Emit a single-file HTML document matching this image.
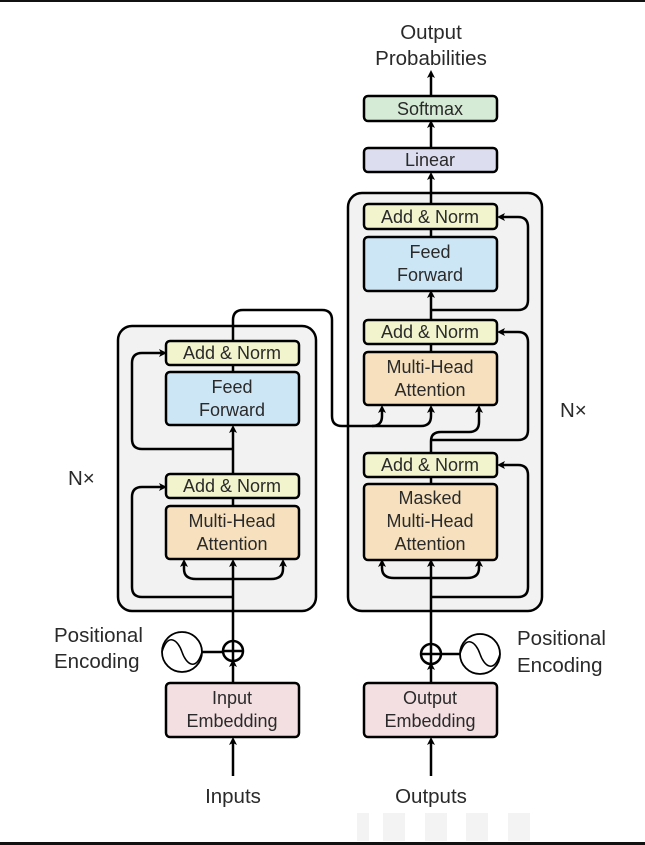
<!DOCTYPE html>
<html><head><meta charset="utf-8"><style>
html,body{margin:0;padding:0;background:#fff;}
svg{display:block;}
text{font-family:"Liberation Sans",sans-serif;fill:#2a2a2a;}
</style></head><body>
<svg width="645" height="845" viewBox="0 0 645 845" xmlns="http://www.w3.org/2000/svg">
<defs>
<marker id="a" markerWidth="8" markerHeight="8" refX="5" refY="4" orient="auto" markerUnits="userSpaceOnUse" viewBox="0 0 8 8">
<path d="M0,0 L8,4 L0,8 L2,4 z" fill="#000"/></marker>
</defs>
<rect x="0" y="0" width="645" height="2" fill="#111"/>
<rect x="0" y="842" width="645" height="3" fill="#111"/>
<g fill="#f3f3f3">
<rect x="357" y="813" width="12" height="28"/><rect x="383" y="813" width="22" height="28"/>
<rect x="425" y="813" width="22" height="28"/><rect x="466" y="813" width="22" height="28"/>
<rect x="508" y="813" width="22" height="28"/>
</g>
<rect x="118" y="326" width="198" height="285" rx="14" fill="#f2f2f2" stroke="#000" stroke-width="2.5"/>
<rect x="348" y="193" width="194" height="418" rx="14" fill="#f2f2f2" stroke="#000" stroke-width="2.5"/>

<g fill="none" stroke="#000" stroke-width="2.5">
<path d="M233 776 V740" marker-end="url(#a)"/>
<path d="M233 683 V662" marker-end="url(#a)"/>
<path d="M233 641 V562" marker-end="url(#a)"/>
<path d="M233 579 H196 Q184 579 184 569 V562" marker-end="url(#a)"/>
<path d="M233 579 H271 Q283 579 283 569 V562" marker-end="url(#a)"/>
<path d="M233 597 H142 Q132 597 132 587 V497 Q132 487 142 487 H164" marker-end="url(#a)"/>
<path d="M233 506 V499"/>
<path d="M233 474 V428" marker-end="url(#a)"/>
<path d="M233 449 H142 Q132 449 132 439 V363 Q132 353 142 353 H164" marker-end="url(#a)"/>
<path d="M233 372 V366"/>
<path d="M233 341 V320 Q233 310 243 310 H322 Q332 310 332 320 V416 Q332 426 342 426 H372 Q382 426 382 416 V408" marker-end="url(#a)"/>
<path d="M372 426 H421 Q431 426 431 416 V408" marker-end="url(#a)"/>
<path d="M201 652 H223"/>
<path d="M431 776 V740" marker-end="url(#a)"/>
<path d="M431 683 V665" marker-end="url(#a)"/>
<path d="M431 644 V562" marker-end="url(#a)"/>
<path d="M431 578 H394 Q382 578 382 568 V562" marker-end="url(#a)"/>
<path d="M431 578 H467 Q479 578 479 568 V562" marker-end="url(#a)"/>
<path d="M431 597 H518 Q528 597 528 587 V475 Q528 465 518 465 H500" marker-end="url(#a)"/>
<path d="M431 484 V477"/>
<path d="M431 453 V441 Q431 432 441 432 H469 Q479 432 479 422 V408" marker-end="url(#a)"/>
<path d="M431 440 H518 Q528 440 528 430 V342 Q528 332 518 332 H500" marker-end="url(#a)"/>
<path d="M431 352 V344"/>
<path d="M431 320 V293" marker-end="url(#a)"/>
<path d="M431 310 H518 Q528 310 528 300 V227 Q528 217 518 217 H500" marker-end="url(#a)"/>
<path d="M431 237 V230"/>
<path d="M431 204 V175" marker-end="url(#a)"/>
<path d="M431 148 V123" marker-end="url(#a)"/>
<path d="M431 96 V73" marker-end="url(#a)"/>
<path d="M441 654 H460"/>
<circle cx="233" cy="651" r="10" fill="#fff"/>
<path d="M223 651 H243 M233 641 V661"/>
<circle cx="431" cy="654" r="10" fill="#fff"/>
<path d="M421 654 H441 M431 644 V664"/>
</g>
<g fill="#fff" stroke="#000" stroke-width="1.8">
<circle cx="182" cy="652" r="20"/>
<circle cx="480" cy="654" r="20"/>
</g>
<g fill="none" stroke="#000" stroke-width="1.5">
<path d="M162 652 C168 632 178 640 182 652 S196 672 202 652"/>
<path d="M460 654 C466 634 476 642 480 654 S494 674 500 654"/>
</g>
<g stroke="#000" stroke-width="2.5">
<rect x="166" y="341" width="133" height="24" rx="4" fill="#f1f4cd"/>
<rect x="166" y="372" width="133" height="53" rx="4" fill="#cde6f5"/>
<rect x="166" y="474" width="133" height="24" rx="4" fill="#f1f4cd"/>
<rect x="166" y="506" width="133" height="53" rx="4" fill="#f6e0bd"/>
<rect x="166" y="683" width="133" height="54" rx="4" fill="#f3dfe1"/>
<rect x="364" y="204" width="133" height="25" rx="4" fill="#f1f4cd"/>
<rect x="364" y="237" width="133" height="54" rx="4" fill="#cde6f5"/>
<rect x="364" y="320" width="133" height="24" rx="4" fill="#f1f4cd"/>
<rect x="364" y="352" width="133" height="53" rx="4" fill="#f6e0bd"/>
<rect x="364" y="453" width="133" height="24" rx="4" fill="#f1f4cd"/>
<rect x="364" y="484" width="133" height="76" rx="4" fill="#f6e0bd"/>
<rect x="364" y="683" width="133" height="54" rx="4" fill="#f3dfe1"/>
<rect x="364" y="148" width="133" height="24" rx="4" fill="#dcdef0"/>
<rect x="364" y="96" width="133" height="25" rx="4" fill="#d6ebd5"/>
</g>
<g font-size="18" text-anchor="middle">
<text x="232" y="359">Add &amp; Norm</text>
<text x="232" y="393">Feed</text><text x="232" y="416">Forward</text>
<text x="232" y="492">Add &amp; Norm</text>
<text x="232" y="527">Multi-Head</text><text x="232" y="550">Attention</text>
<text x="232" y="704">Input</text><text x="232" y="727">Embedding</text>
<text x="430" y="223">Add &amp; Norm</text>
<text x="430" y="258">Feed</text><text x="430" y="281">Forward</text>
<text x="430" y="338">Add &amp; Norm</text>
<text x="430" y="373">Multi-Head</text><text x="430" y="396">Attention</text>
<text x="430" y="471">Add &amp; Norm</text>
<text x="430" y="504">Masked</text><text x="430" y="527">Multi-Head</text><text x="430" y="550">Attention</text>
<text x="430" y="704">Output</text><text x="430" y="727">Embedding</text>
<text x="430" y="166">Linear</text>
<text x="430" y="115">Softmax</text>
</g>
<g font-size="20.5">
<text x="431" y="39" text-anchor="middle">Output</text>
<text x="431" y="65" text-anchor="middle">Probabilities</text>
<text x="233" y="803" text-anchor="middle">Inputs</text>
<text x="431" y="803" text-anchor="middle">Outputs</text>
<text x="54" y="642">Positional</text>
<text x="54" y="668">Encoding</text>
<text x="517" y="645">Positional</text>
<text x="517" y="672">Encoding</text>
<text x="68" y="485">N×</text>
<text x="560" y="417">N×</text>
</g>
</svg>
</body></html>
